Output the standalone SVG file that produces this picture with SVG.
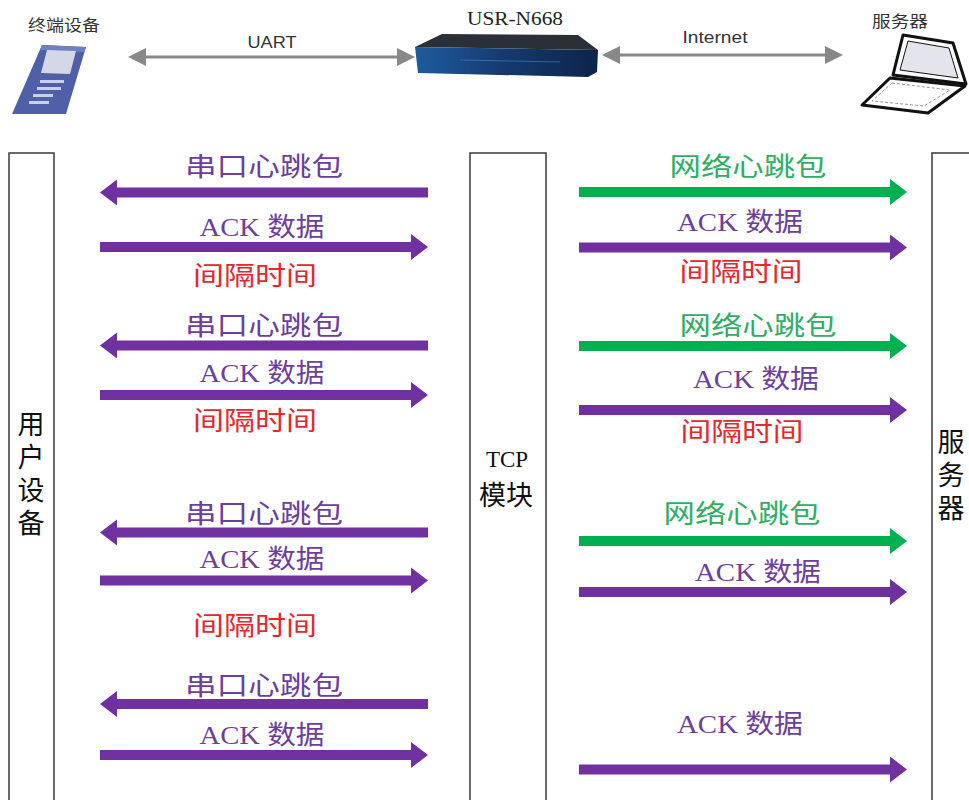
<svg xmlns="http://www.w3.org/2000/svg" width="969" height="800" viewBox="0 0 969 800">
<defs>
<style>
.lbl{font-family:"Liberation Serif","Noto Sans CJK SC",serif;font-size:26px;text-anchor:middle}
.pu{fill:#6d3f9c}
.gr{fill:#2fae64}
.rd{fill:#e8262b}
.life{fill:#fff;stroke:#3a3a3a;stroke-width:1.5}
.vt{font-family:"Noto Sans CJK SC",sans-serif;font-size:27px;fill:#111;text-anchor:middle}
.vert{writing-mode:vertical-rl;letter-spacing:6px;text-anchor:start}
.hdr{font-family:"Noto Sans CJK SC",sans-serif;font-size:16px;fill:#333;text-anchor:middle}
.gray{fill:#888}
.ap{fill:#7030A0}
.ag{fill:#00B050}
</style>
<path id="arr" d="M0,-5 H311 V-13 L328,0 L311,13 V5 H0 Z"/>
<linearGradient id="panel" x1="0" y1="0" x2="1" y2="0">
<stop offset="0" stop-color="#1e5c9e"/>
<stop offset="0.5" stop-color="#15396e"/>
<stop offset="1" stop-color="#0e2448"/>
</linearGradient>
</defs>
<rect width="969" height="800" fill="#fff"/>

<!-- header devices -->
<g id="terminal">
<text class="hdr" x="64" y="31" textLength="72" lengthAdjust="spacingAndGlyphs">终端设备</text>
<polygon points="42,45 86,47 66,114 12,114" fill="#4f5fa8"/>
<polygon points="42,45 86,47 84,52 40,50" fill="#6f7fc4"/>
<polygon points="47,50 76,51 70,74 41,73" fill="#d4d8e6"/>
<g fill="#c9cfee">
<rect x="40" y="80" width="24" height="3"/>
<rect x="37" y="87" width="24" height="3"/>
<rect x="33" y="94" width="20" height="3"/>
<rect x="29" y="101" width="20" height="3"/>
</g>
</g>
<g id="router">
<text x="515" y="25" font-family="Liberation Serif, serif" font-size="19" fill="#222" text-anchor="middle" textLength="96" lengthAdjust="spacingAndGlyphs">USR-N668</text>
<polygon points="415,47 442,34 578,35 598,50" fill="#2b2f36"/>
<polygon points="415,47 598,50 597,72 588,77 418,73" fill="url(#panel)"/>
<line x1="460" y1="60" x2="560" y2="62" stroke="#4f86c6" stroke-width="1" opacity="0.6"/>
</g>
<g id="server">
<text class="hdr" x="900" y="27" textLength="56" lengthAdjust="spacingAndGlyphs">服务器</text>
<polygon points="903,35 953,43 966,84 893,75" fill="#fff" stroke="#111" stroke-width="3" stroke-linejoin="round"/>
<polygon points="908,41 949,48 958,78 900,70" fill="#e4e4ec" stroke="#111" stroke-width="1"/>
<polygon points="890,78 965,86 928,113 862,105" fill="#fff" stroke="#111" stroke-width="3" stroke-linejoin="round"/>
<polygon points="892,83 950,90 924,106 872,101" fill="none" stroke="#999" stroke-width="1" stroke-dasharray="3,2"/>
</g>

<!-- header links -->
<g id="links">
<text x="272" y="48" font-family="Liberation Sans, Arial, sans-serif" font-size="17" fill="#333" text-anchor="middle" textLength="49" lengthAdjust="spacingAndGlyphs">UART</text>
<rect x="140" y="55.5" width="263" height="3" class="gray"/>
<polygon points="128,57 146,48 146,66" class="gray"/>
<polygon points="415,57 397,48 397,66" class="gray"/>
<text x="715" y="43" font-family="Liberation Sans, Arial, sans-serif" font-size="17" fill="#333" text-anchor="middle" textLength="65" lengthAdjust="spacingAndGlyphs">Internet</text>
<rect x="614" y="53.5" width="217" height="3" class="gray"/>
<polygon points="602,55 620,46 620,64" class="gray"/>
<polygon points="843,55 825,46 825,64" class="gray"/>
</g>

<!-- lifelines -->
<g id="user-device">
<rect class="life" x="9" y="153" width="45" height="700"/>
<text class="vt vert" x="31" y="410">用户设备</text>
</g>
<g id="tcp-module">
<rect class="life" x="470" y="153" width="76" height="700"/>
<text x="507" y="467" font-family="Liberation Serif, serif" font-size="23" fill="#111" text-anchor="middle">TCP</text>
<text class="vt" x="506" y="505">模块</text>
</g>
<g id="server-life">
<rect class="life" x="932" y="153" width="70" height="700"/>
<text class="vt vert" x="951" y="428" font-size="26">服务器</text>
</g>

<!-- connectors -->
<g id="connectors">
<use href="#arr" class="ap" transform="translate(428,192.5) scale(-1,1)"/>
<use href="#arr" class="ap" transform="translate(100,247)"/>
<use href="#arr" class="ap" transform="translate(428,345.5) scale(-1,1)"/>
<use href="#arr" class="ap" transform="translate(100,395)"/>
<use href="#arr" class="ap" transform="translate(428,532.5) scale(-1,1)"/>
<use href="#arr" class="ap" transform="translate(100,580.5)"/>
<use href="#arr" class="ap" transform="translate(428,704) scale(-1,1)"/>
<use href="#arr" class="ap" transform="translate(100,755)"/>

<use href="#arr" class="ag" transform="translate(579,192)"/>
<use href="#arr" class="ap" transform="translate(579,247.5)"/>
<use href="#arr" class="ag" transform="translate(579,346)"/>
<use href="#arr" class="ap" transform="translate(579,410)"/>
<use href="#arr" class="ag" transform="translate(579,541)"/>
<use href="#arr" class="ap" transform="translate(579,592)"/>
<use href="#arr" class="ap" transform="translate(579,769.5)"/>
</g>

<!-- labels -->
<g id="labels-left">
<text class="lbl pu" x="264" y="176" textLength="158" lengthAdjust="spacingAndGlyphs">串口心跳包</text>
<text class="lbl pu" x="262" y="236" textLength="125" lengthAdjust="spacingAndGlyphs">ACK 数据</text>
<text class="lbl rd" x="255" y="285" textLength="124" lengthAdjust="spacingAndGlyphs">间隔时间</text>
<text class="lbl pu" x="264" y="335" textLength="158" lengthAdjust="spacingAndGlyphs">串口心跳包</text>
<text class="lbl pu" x="262" y="382" textLength="125" lengthAdjust="spacingAndGlyphs">ACK 数据</text>
<text class="lbl rd" x="255" y="430" textLength="124" lengthAdjust="spacingAndGlyphs">间隔时间</text>
<text class="lbl pu" x="264" y="523" textLength="158" lengthAdjust="spacingAndGlyphs">串口心跳包</text>
<text class="lbl pu" x="262" y="568" textLength="125" lengthAdjust="spacingAndGlyphs">ACK 数据</text>
<text class="lbl rd" x="255" y="635" textLength="124" lengthAdjust="spacingAndGlyphs">间隔时间</text>
<text class="lbl pu" x="264" y="695" textLength="158" lengthAdjust="spacingAndGlyphs">串口心跳包</text>
<text class="lbl pu" x="262" y="744" textLength="125" lengthAdjust="spacingAndGlyphs">ACK 数据</text>
</g>
<g id="labels-right">
<text class="lbl gr" x="748" y="176" textLength="157" lengthAdjust="spacingAndGlyphs">网络心跳包</text>
<text class="lbl pu" x="740" y="231" textLength="126" lengthAdjust="spacingAndGlyphs">ACK 数据</text>
<text class="lbl rd" x="741" y="281" textLength="123" lengthAdjust="spacingAndGlyphs">间隔时间</text>
<text class="lbl gr" x="758" y="335" textLength="157" lengthAdjust="spacingAndGlyphs">网络心跳包</text>
<text class="lbl pu" x="756" y="388" textLength="126" lengthAdjust="spacingAndGlyphs">ACK 数据</text>
<text class="lbl rd" x="742" y="441" textLength="123" lengthAdjust="spacingAndGlyphs">间隔时间</text>
<text class="lbl gr" x="742" y="523" textLength="157" lengthAdjust="spacingAndGlyphs">网络心跳包</text>
<text class="lbl pu" x="758" y="581" textLength="126" lengthAdjust="spacingAndGlyphs">ACK 数据</text>
<text class="lbl pu" x="740" y="733" textLength="126" lengthAdjust="spacingAndGlyphs">ACK 数据</text>
</g>
</svg>
